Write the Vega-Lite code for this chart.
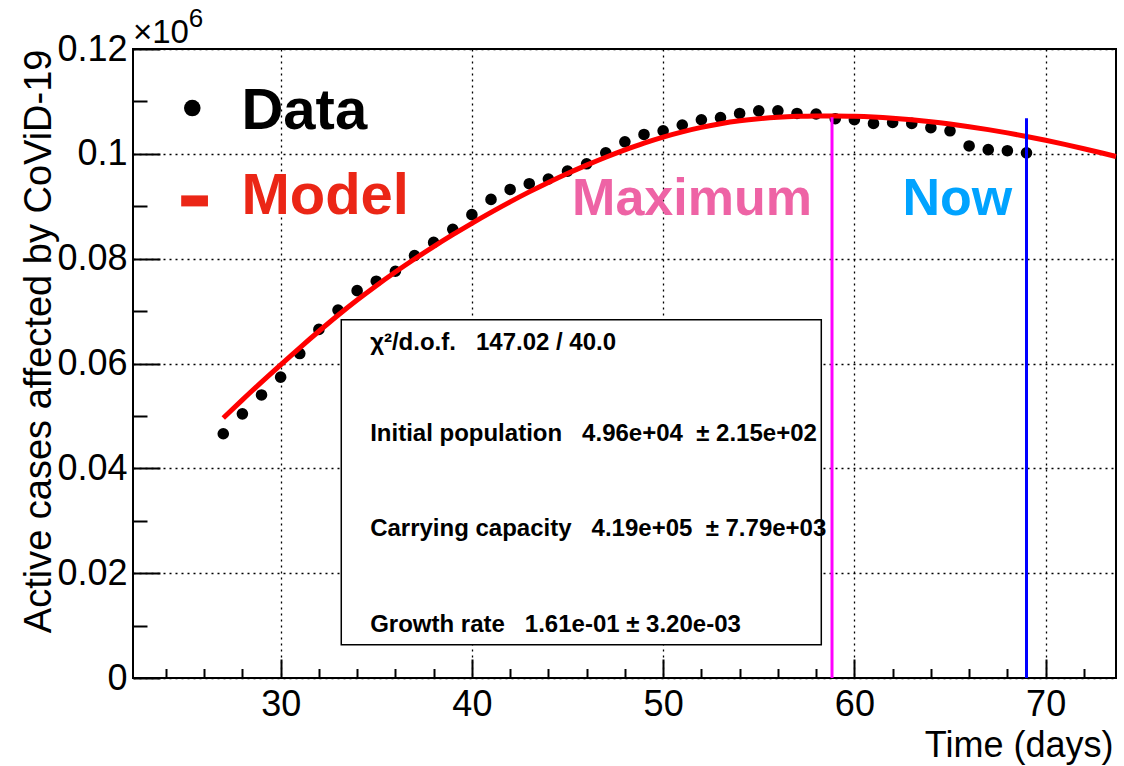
{
  "$schema": "https://vega.github.io/schema/vega-lite/v6.json",
  "width": 983,
  "height": 629,
  "autosize": {"type": "none"},
  "padding": {"left": 133, "top": 49, "right": 8, "bottom": 88},
  "background": "white",
  "config": {
    "view": {"stroke": "black", "strokeWidth": 2},
    "font": "Liberation Sans",
    "axis": {"labelFont": "Liberation Sans", "titleFont": "Liberation Sans", "labelColor": "black", "titleColor": "black", "tickColor": "black", "domain": false}
  },
  "datasets": {
    "points": [
      {"day": 27, "cases": 46600}, {"day": 28, "cases": 50400}, {"day": 29, "cases": 54000},
      {"day": 30, "cases": 57400}, {"day": 31, "cases": 61900}, {"day": 32, "cases": 66500},
      {"day": 33, "cases": 70200}, {"day": 34, "cases": 73900}, {"day": 35, "cases": 75700},
      {"day": 36, "cases": 77600}, {"day": 37, "cases": 80600}, {"day": 38, "cases": 83100},
      {"day": 39, "cases": 85600}, {"day": 40, "cases": 88400}, {"day": 41, "cases": 91300},
      {"day": 42, "cases": 93200}, {"day": 43, "cases": 94300}, {"day": 44, "cases": 95200},
      {"day": 45, "cases": 96700}, {"day": 46, "cases": 98100}, {"day": 47, "cases": 100200},
      {"day": 48, "cases": 102300}, {"day": 49, "cases": 103700}, {"day": 50, "cases": 104400},
      {"day": 51, "cases": 105500}, {"day": 52, "cases": 106500}, {"day": 53, "cases": 106900},
      {"day": 54, "cases": 107700}, {"day": 55, "cases": 108200}, {"day": 56, "cases": 108200},
      {"day": 57, "cases": 107700}, {"day": 58, "cases": 107600}, {"day": 59, "cases": 106700},
      {"day": 60, "cases": 106500}, {"day": 61, "cases": 105800}, {"day": 62, "cases": 106000},
      {"day": 63, "cases": 105800}, {"day": 64, "cases": 105000}, {"day": 65, "cases": 104400},
      {"day": 66, "cases": 101500}, {"day": 67, "cases": 100800}, {"day": 68, "cases": 100600},
      {"day": 69, "cases": 100200}
    ],
    "model": [
      {"day": 27, "cases": 49600}, {"day": 28, "cases": 53050}, {"day": 29, "cases": 56450},
      {"day": 30, "cases": 59750}, {"day": 31, "cases": 63000}, {"day": 32, "cases": 66150},
      {"day": 33, "cases": 69200}, {"day": 34, "cases": 72100}, {"day": 35, "cases": 74850},
      {"day": 36, "cases": 77450}, {"day": 37, "cases": 79930}, {"day": 38, "cases": 82300},
      {"day": 39, "cases": 84570}, {"day": 40, "cases": 86750}, {"day": 41, "cases": 88840},
      {"day": 42, "cases": 90840}, {"day": 43, "cases": 92740}, {"day": 44, "cases": 94540},
      {"day": 45, "cases": 96240}, {"day": 46, "cases": 97840}, {"day": 47, "cases": 99350},
      {"day": 48, "cases": 100750}, {"day": 49, "cases": 102050}, {"day": 50, "cases": 103200},
      {"day": 51, "cases": 104200}, {"day": 52, "cases": 105050}, {"day": 53, "cases": 105750},
      {"day": 54, "cases": 106300}, {"day": 55, "cases": 106700}, {"day": 56, "cases": 106980},
      {"day": 57, "cases": 107150}, {"day": 58, "cases": 107230}, {"day": 59, "cases": 107240},
      {"day": 60, "cases": 107170}, {"day": 61, "cases": 107020}, {"day": 62, "cases": 106790},
      {"day": 63, "cases": 106490}, {"day": 64, "cases": 106120}, {"day": 65, "cases": 105680},
      {"day": 66, "cases": 105180}, {"day": 67, "cases": 104620}, {"day": 68, "cases": 104000},
      {"day": 69, "cases": 103320}, {"day": 70, "cases": 102590}, {"day": 71, "cases": 101810},
      {"day": 72, "cases": 100980}, {"day": 73, "cases": 100110}, {"day": 73.68, "cases": 99500}
    ],
    "stats": [
      {"line": "χ²/d.o.f.\u00a0\u00a0\u00a0147.02 / 40.0", "day": 34.68, "cases": 62500},
      {"line": "Initial population\u00a0\u00a0\u00a04.96e+04\u00a0\u00a0± 2.15e+02", "day": 34.68, "cases": 45140},
      {"line": "Carrying capacity\u00a0\u00a0\u00a04.19e+05\u00a0\u00a0± 7.79e+03", "day": 34.68, "cases": 27010},
      {"line": "Growth rate\u00a0\u00a0\u00a01.61e-01 ± 3.20e-03", "day": 34.68, "cases": 8700}
    ]
  },
  "layer": [
    {
      "data": {"name": "points"},
      "mark": {"type": "circle", "color": "black", "opacity": 1, "size": 135},
      "encoding": {
        "x": {"field": "day", "type": "quantitative",
          "scale": {"domain": [22.28, 73.68], "nice": false, "zero": false},
          "axis": {"orient": "bottom",
            "values": [24, 26, 28, 30, 32, 34, 36, 38, 40, 42, 44, 46, 48, 50, 52, 54, 56, 58, 60, 62, 64, 66, 68, 70, 72],
            "labelExpr": "datum.value % 10 === 0 ? format(datum.value, 'd') : ''",
            "grid": true, "gridColor": "black", "gridDash": [2, 4], "gridWidth": 1.3,
            "gridOpacity": {"condition": {"test": "datum.value % 10 === 0", "value": 1}, "value": 0},
            "ticks": true,
            "tickSize": {"condition": {"test": "datum.value % 10 === 0", "value": -19}, "value": -9.5},
            "tickWidth": 2, "domain": false,
            "labelFontSize": 36, "labelPadding": 28, "labelFlush": false, "labelOverlap": false,
            "title": "Time (days)", "titleFontSize": 36, "titleFontWeight": "normal",
            "titleAnchor": "end", "titleAlign": "right", "titleX": 980, "titleY": 78, "titleBaseline": "alphabetic"}},
        "y": {"field": "cases", "type": "quantitative",
          "scale": {"domain": [0, 120000], "nice": false, "zero": false},
          "axis": {"orient": "left",
            "values": [0, 5000, 10000, 15000, 20000, 25000, 30000, 35000, 40000, 45000, 50000, 55000, 60000, 65000, 70000, 75000, 80000, 85000, 90000, 95000, 100000, 105000, 110000, 115000, 120000],
            "labelExpr": "datum.value % 20000 === 0 ? format(datum.value / 1000000, '~g') : ''",
            "grid": true, "gridColor": "black", "gridDash": [2, 4], "gridWidth": 1.3,
            "gridOpacity": {"condition": {"test": "datum.value % 20000 === 0", "value": 1}, "value": 0},
            "ticks": true,
            "tickSize": {"condition": {"test": "datum.value % 20000 === 0", "value": -27}, "value": -14},
            "tickWidth": 2, "domain": false,
            "labelFontSize": 36, "labelPadding": 33, "labelFlush": false, "labelOverlap": false,
            "title": "Active cases affected by CoViD-19", "titleFontSize": 38, "titleFontWeight": "normal",
            "titleAnchor": "end", "titleAlign": "right", "titleAngle": -90, "titleX": -83, "titleY": 0, "titleBaseline": "alphabetic"}}
      }
    },
    {
      "data": {"name": "model"},
      "mark": {"type": "line", "color": "#ff0000", "strokeWidth": 5, "interpolate": "monotone"},
      "encoding": {
        "x": {"field": "day", "type": "quantitative"},
        "y": {"field": "cases", "type": "quantitative"}
      }
    },
    {
      "data": {"values": [{"x1": 33.17, "x2": 58.27, "y1": 6350, "y2": 68360}]},
      "mark": {"type": "rect", "fill": "white", "stroke": "black", "strokeWidth": 1.5},
      "encoding": {
        "x": {"field": "x1", "type": "quantitative"},
        "x2": {"field": "x2"},
        "y": {"field": "y1", "type": "quantitative"},
        "y2": {"field": "y2"}
      }
    },
    {
      "data": {"name": "stats"},
      "mark": {"type": "text", "align": "left", "baseline": "alphabetic", "fontSize": 24, "fontWeight": "bold", "color": "black", "font": "Liberation Sans"},
      "encoding": {
        "x": {"field": "day", "type": "quantitative"},
        "y": {"field": "cases", "type": "quantitative"},
        "text": {"field": "line"}
      }
    },
    {
      "data": {"values": [{"day": 58.83, "bottom": 0, "top": 106970}]},
      "mark": {"type": "rule", "color": "#ff00ff", "strokeWidth": 3},
      "encoding": {
        "x": {"field": "day", "type": "quantitative"},
        "y": {"field": "bottom", "type": "quantitative"},
        "y2": {"field": "top"}
      }
    },
    {
      "data": {"values": [{"day": 69, "bottom": 0, "top": 106780}]},
      "mark": {"type": "rule", "color": "#0000ff", "strokeWidth": 3},
      "encoding": {
        "x": {"field": "day", "type": "quantitative"},
        "y": {"field": "bottom", "type": "quantitative"},
        "y2": {"field": "top"}
      }
    },
    {
      "data": {"values": [{"day": 25.38, "cases": 108730}]},
      "mark": {"type": "circle", "color": "black", "opacity": 1, "size": 275},
      "encoding": {
        "x": {"field": "day", "type": "quantitative"},
        "y": {"field": "cases", "type": "quantitative"}
      }
    },
    {
      "data": {"values": [{"x1": 24.8, "x2": 26.2, "y1": 89970, "y2": 92070}]},
      "mark": {"type": "rect", "color": "#eb2616"},
      "encoding": {
        "x": {"field": "x1", "type": "quantitative"},
        "x2": {"field": "x2"},
        "y": {"field": "y1", "type": "quantitative"},
        "y2": {"field": "y2"}
      }
    },
    {
      "data": {"values": [{"label": "Data", "day": 27.95, "cases": 104740}]},
      "mark": {"type": "text", "align": "left", "baseline": "alphabetic", "fontSize": 58, "fontWeight": "bold", "color": "black", "font": "Liberation Sans"},
      "encoding": {
        "x": {"field": "day", "type": "quantitative"},
        "y": {"field": "cases", "type": "quantitative"},
        "text": {"field": "label"}
      }
    },
    {
      "data": {"values": [{"label": "Model", "day": 27.95, "cases": 88580}]},
      "mark": {"type": "text", "align": "left", "baseline": "alphabetic", "fontSize": 58, "fontWeight": "bold", "color": "#eb2616", "font": "Liberation Sans"},
      "encoding": {
        "x": {"field": "day", "type": "quantitative"},
        "y": {"field": "cases", "type": "quantitative"},
        "text": {"field": "label"}
      }
    },
    {
      "data": {"values": [{"label": "Maximum", "day": 45.24, "cases": 88390}]},
      "mark": {"type": "text", "align": "left", "baseline": "alphabetic", "fontSize": 52, "fontWeight": "bold", "color": "#ee63a5", "font": "Liberation Sans"},
      "encoding": {
        "x": {"field": "day", "type": "quantitative"},
        "y": {"field": "cases", "type": "quantitative"},
        "text": {"field": "label"}
      }
    },
    {
      "data": {"values": [{"label": "Now", "day": 62.51, "cases": 88390}]},
      "mark": {"type": "text", "align": "left", "baseline": "alphabetic", "fontSize": 52, "fontWeight": "bold", "color": "#00a3ff", "font": "Liberation Sans"},
      "encoding": {
        "x": {"field": "day", "type": "quantitative"},
        "y": {"field": "cases", "type": "quantitative"},
        "text": {"field": "label"}
      }
    },
    {
      "data": {"values": [{"label": "×10", "day": 22.28, "cases": 121200}]},
      "mark": {"type": "text", "align": "left", "baseline": "alphabetic", "fontSize": 33, "color": "black", "font": "Liberation Sans"},
      "encoding": {
        "x": {"field": "day", "type": "quantitative"},
        "y": {"field": "cases", "type": "quantitative"},
        "text": {"field": "label"}
      }
    },
    {
      "data": {"values": [{"label": "6", "day": 25.2, "cases": 124290}]},
      "mark": {"type": "text", "align": "left", "baseline": "alphabetic", "fontSize": 26, "color": "black", "font": "Liberation Sans"},
      "encoding": {
        "x": {"field": "day", "type": "quantitative"},
        "y": {"field": "cases", "type": "quantitative"},
        "text": {"field": "label"}
      }
    }
  ]
}
